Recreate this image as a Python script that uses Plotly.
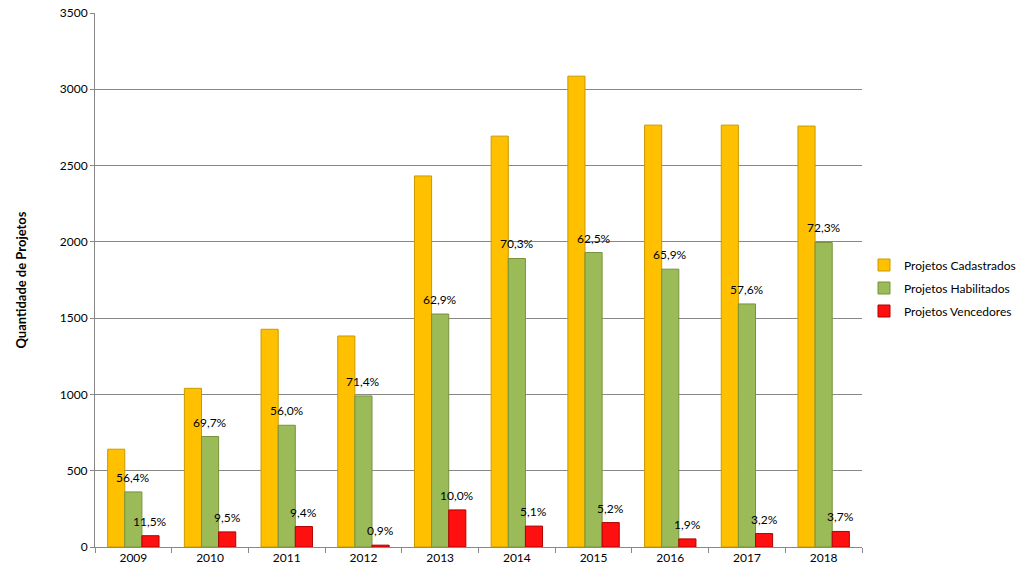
import plotly.graph_objects as go

years = ["2009", "2010", "2011", "2012", "2013", "2014", "2015", "2016", "2017", "2018"]
cadastrados = [641, 1040, 1427, 1383, 2432, 2693, 3086, 2765, 2765, 2759]
habilitados = [361, 724, 798, 990, 1527, 1891, 1930, 1821, 1593, 1996]
vencedores = [74, 99, 134, 12, 243, 137, 160, 53, 88, 102]
hab_labels = ["56,4%", "69,7%", "56,0%", "71,4%", "62,9%", "70,3%", "62,5%", "65,9%", "57,6%", "72,3%"]
venc_labels = ["11,5%", "9,5%", "9,4%", "0,9%", "10,0%", "5,1%", "5,2%", "1,9%", "3,2%", "3,7%"]

FONT = "Lato"
W, H = 1024, 575
ML, MT, MB = 95, 13, 28
PLOT_RIGHT = 862
plot_w_paper = W - ML
x_dom_end = (PLOT_RIGHT - ML) / plot_w_paper

fig = go.Figure()
fig.add_trace(go.Bar(
    x=years, y=cadastrados, name="Projetos Cadastrados", legendgroup="a",
    marker=dict(color="#FFC000", line=dict(color="#C99A00", width=1)),
))
fig.add_trace(go.Bar(
    x=years, y=habilitados, name="Projetos Habilitados", legendgroup="b",
    marker=dict(color="#9BBB59", line=dict(color="#76923C", width=1)),
))
fig.add_trace(go.Bar(
    x=years, y=vencedores, name="Projetos Vencedores", legendgroup="c",
    marker=dict(color="#FF1010", line=dict(color="#B00000", width=1)),
))

# data labels above green and red bars (category serial index on the x axis)
cat_px = (PLOT_RIGHT - ML) / len(years)
bar_px = cat_px * (1 - 0.33) / 3
annotations = []
for i, (v, t) in enumerate(zip(habilitados, hab_labels)):
    annotations.append(dict(x=i, y=v, text=t, showarrow=False, xref="x", yref="y",
                            yanchor="bottom", yshift=5, xshift=0,
                            font=dict(family=FONT, size=12, color="#000000")))
for i, (v, t) in enumerate(zip(vencedores, venc_labels)):
    annotations.append(dict(x=i, y=v, text=t, showarrow=False, xref="x", yref="y",
                            yanchor="bottom", yshift=5, xshift=bar_px,
                            font=dict(family=FONT, size=12, color="#000000")))

fig.update_layout(
    width=W, height=H,
    margin=dict(l=ML, r=0, t=MT, b=MB, autoexpand=False),
    paper_bgcolor="white", plot_bgcolor="white",
    barmode="group", bargap=0.33, bargroupgap=0,
    font=dict(family=FONT, size=12, color="#000000"),
    showlegend=True,
    legend=dict(x=(864 - ML) / plot_w_paper, y=0.485, xanchor="left", yanchor="middle",
                font=dict(family=FONT, size=12), tracegroupgap=4,
                itemwidth=30, bgcolor="rgba(0,0,0,0)"),
    annotations=annotations,
)
fig.update_xaxes(
    type="category", range=[-0.5, len(years) - 0.5],
    domain=[0, x_dom_end], automargin=False,
    showline=True, linecolor="#888888", linewidth=1,
    ticks="outside", tickson="boundaries", ticklen=5, tickcolor="#888888",
    tickfont=dict(family=FONT, size=12), showgrid=False,
)
fig.update_yaxes(
    range=[0, 3500], dtick=500, tick0=0, automargin=False,
    showline=True, linecolor="#888888", linewidth=1,
    ticks="outside", ticklen=4, tickcolor="#888888",
    showgrid=True, gridcolor="#888888", gridwidth=1,
    tickfont=dict(family=FONT, size=12),
    title=dict(text="<b>Quantidade de Projetos</b>", font=dict(family=FONT, size=13), standoff=30),
    zeroline=False,
)

fig.write_html("out.html")
